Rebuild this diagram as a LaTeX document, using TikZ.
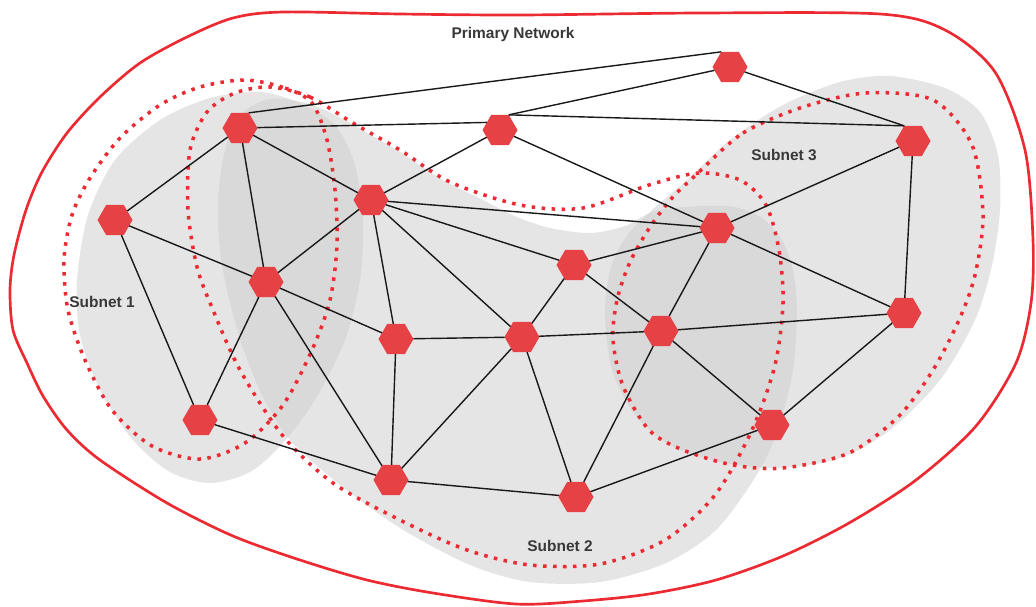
\documentclass[tikz,border=0pt]{standalone}
\usepackage{fontspec}
\setmainfont{Liberation Sans}
\usetikzlibrary{shapes.geometric}
\definecolor{nodered}{HTML}{E64144}
\definecolor{netred}{HTML}{EC2A32}
\definecolor{zonegray}{HTML}{CCCCCC}
\definecolor{textgray}{HTML}{383838}

\begin{document}
\begin{tikzpicture}[x=0.025cm, y=-0.025cm,
        hexnode/.style={regular polygon, regular polygon sides=6, fill=nodered,
            minimum size=0.875cm, inner sep=0pt, outer sep=0pt},
        link/.style={line width=1pt, black!90},
        zone/.style={fill=zonegray, fill opacity=0.5},
        subnet/.style={netred, line width=2.5pt, dash pattern=on 2.5pt off 4.6pt},
        title/.style={text=textgray, font=\bfseries\fontsize{11pt}{13pt}\selectfont}]
        \useasboundingbox (0,0) rectangle (1036,606);

        % Draw shaded areas
        \fill[zone] plot[smooth cycle] coordinates {(260,92) (300,103) (335,125) (355,165) (363,220) (360,280) (345,340) (315,400) (283,443) (250,472) (210,483) (170,472) (133,440) (100,390) (80,335) (77,280) (88,215) (115,160) (160,120) (210,98)};
        \fill[zone] plot[smooth cycle] coordinates {(218,200) (225,150) (240,115) (270,99) (310,104) (350,123) (400,152) (443,180) (483,200) (517,217) (550,228) (590,233) (625,226) (655,211) (700,206) (735,207) (762,218) (782,240) (793,270) (797,310) (793,370) (778,430) (756,476) (716,530) (666,563) (600,582) (530,582) (470,565) (400,528) (340,485) (290,440) (262,395) (242,345) (228,295) (220,250)};
        \fill[zone] plot[smooth cycle] coordinates {(687,180) (730,140) (783,105) (840,82) (890,76) (945,88) (980,112) (998,155) (1000,210) (992,265) (975,320) (940,380) (890,430) (840,458) (780,468) (720,462) (670,445) (635,415) (612,370) (605,315) (610,270) (625,238) (652,210)};

        % Draw primary network border
        \draw[netred, line width=1.9pt] plot[smooth cycle] coordinates {(283,12) (400,14) (520,15) (700,13) (880,14) (945,30) (995,72) (1025,150) (1033,240) (1031,303) (1016,363) (976,426) (916,480) (849,523) (783,556) (716,580) (649,594) (583,601) (516,604) (433,593) (367,580) (300,560) (233,536) (167,503) (100,460) (67,430) (43,396) (27,363) (13,330) (10,290) (14,255) (26,210) (42,172) (67,133) (100,97) (140,63) (187,37) (233,18)};

        % Draw subnet borders
        \draw[subnet] plot[smooth cycle] coordinates {(245,80) (285,88) (312,103) (327,140) (335,190) (337,245) (330,300) (312,350) (283,405) (245,443) (200,459) (152,446) (112,410) (85,360) (68,310) (64,260) (72,215) (90,178) (120,138) (160,105) (200,87)};
        \draw[subnet] plot[smooth cycle] coordinates {(270,87) (310,97) (353,123) (400,150) (450,182) (520,205) (583,208) (649,185) (699,173) (740,180) (766,205) (779,250) (783,303) (775,365) (752,430) (715,495) (665,540) (600,564) (530,565) (467,550) (400,520) (333,483) (283,436) (240,370) (213,310) (197,267) (188,210) (190,150) (207,112) (235,93)};
        \draw[subnet] plot[smooth cycle] coordinates {(698,173) (743,133) (803,107) (866,93) (933,100) (972,145) (983,215) (975,275) (959,320) (933,370) (899,416) (849,453) (783,468) (733,465) (683,450) (649,430) (623,386) (613,340) (617,300) (630,262) (650,227) (672,198)};

        % Draw nodes
        \foreach \n/\x/\y in {a/240/128, b/500/130, c/730/67, d/913/141, e/115/220,
                f/371/200, g/717/228, h/574/265, i/266/282, j/396/339, k/522/337,
                l/661/331, m/904/313, n/200/420, o/391/480, p/576/497, q/772/425}
            \node[hexnode] (\n) at (\x,\y) {};

        % Draw links
        \foreach \s/\t in {a/b.150, a.60/c.120, a/e, a/f, a/i, b.60/c, b.60/d.120, b/f, b/g,
                c/d.120, d/g, d/m, e/i, e/n, f/g, f/h, f/i, f/j, f/k, g/h, g/l, g/m,
                h/k, h/l, i/j, i/n, i/o, j/k, j/o, k/l, k/o, k/p, l/m, l/p, l/q,
                m/q, n/o, o/p, p/q}
            \draw[link] (\s) -- (\t);

        % Labels
        \node[title] (primary) at (513,34) {Primary Network};
        \node[title] (sub1) at (102,302) {Subnet 1};
        \node[title] (sub2) at (560,546) {Subnet 2};
        \node[title] (sub3) at (784,155) {Subnet 3};
    \end{tikzpicture}
\end{document}
